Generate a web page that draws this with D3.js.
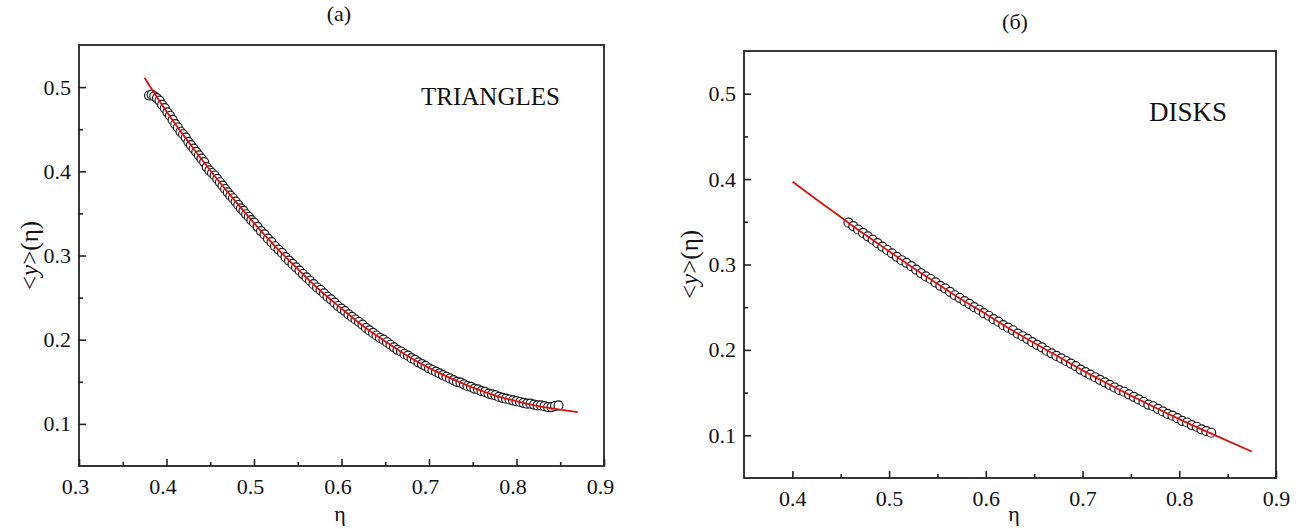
<!DOCTYPE html>
<html>
<head>
<meta charset="utf-8">
<script src="https://cdn.jsdelivr.net/npm/d3@7"></script>
<style>
  html, body { margin: 0; padding: 0; background: #fff; }
  svg { display: block; }
  text { font-family: "Liberation Serif", "Times New Roman", serif; fill: #111; }
</style>
</head>
<body>
<svg id="chart" width="1302" height="529"></svg>
<script>
// ---- Panel (a): triangles ----
const triEta = [
  0.380, 0.383, 0.386, 0.389, 0.392, 0.395, 0.398, 0.401, 0.404, 0.407,
  0.410, 0.413, 0.416, 0.419, 0.422, 0.425, 0.428, 0.431, 0.434, 0.437,
  0.440, 0.443, 0.446, 0.449, 0.452, 0.455, 0.458, 0.461, 0.464, 0.467,
  0.470, 0.473, 0.476, 0.479, 0.482, 0.485, 0.488, 0.491, 0.494, 0.497,
  0.500, 0.504, 0.508, 0.512, 0.516, 0.520, 0.524, 0.528, 0.532, 0.536,
  0.540, 0.544, 0.548, 0.552, 0.556, 0.560, 0.564, 0.568, 0.572, 0.576,
  0.580, 0.584, 0.588, 0.592, 0.596, 0.600, 0.604, 0.608, 0.612, 0.616,
  0.620, 0.624, 0.628, 0.632, 0.636, 0.640, 0.644, 0.648, 0.652, 0.656,
  0.660, 0.664, 0.668, 0.672, 0.676, 0.680, 0.684, 0.688, 0.692, 0.696,
  0.700, 0.704, 0.708, 0.712, 0.716, 0.720, 0.724, 0.728, 0.732, 0.736,
  0.740, 0.744, 0.748, 0.752, 0.756, 0.760, 0.764, 0.768, 0.772, 0.776,
  0.780, 0.784, 0.788, 0.792, 0.796, 0.800, 0.804, 0.808, 0.812, 0.816,
  0.820, 0.824, 0.828, 0.832, 0.836, 0.840, 0.844, 0.848
];
const triY = [
  0.490, 0.491, 0.489, 0.487, 0.484, 0.479, 0.475, 0.470, 0.466, 0.461,
  0.456, 0.452, 0.447, 0.444, 0.440, 0.435, 0.431, 0.427, 0.423, 0.419,
  0.415, 0.411, 0.405, 0.401, 0.398, 0.395, 0.391, 0.387, 0.383, 0.379,
  0.375, 0.371, 0.368, 0.364, 0.360, 0.356, 0.353, 0.349, 0.346, 0.342,
  0.339, 0.334, 0.329, 0.325, 0.320, 0.316, 0.311, 0.307, 0.303, 0.298,
  0.294, 0.290, 0.286, 0.282, 0.278, 0.274, 0.270, 0.266, 0.262, 0.259,
  0.255, 0.251, 0.248, 0.244, 0.240, 0.237, 0.234, 0.230, 0.227, 0.224,
  0.221, 0.218, 0.214, 0.211, 0.208, 0.205, 0.202, 0.200, 0.197, 0.194,
  0.191, 0.188, 0.186, 0.183, 0.181, 0.178, 0.176, 0.173, 0.171, 0.169,
  0.166, 0.164, 0.162, 0.160, 0.158, 0.156, 0.154, 0.152, 0.150, 0.149,
  0.147, 0.145, 0.144, 0.142, 0.141, 0.139, 0.138, 0.136, 0.135, 0.134,
  0.132, 0.131, 0.130, 0.129, 0.128, 0.127, 0.126, 0.125, 0.124, 0.124,
  0.123, 0.122, 0.122, 0.121, 0.120, 0.120, 0.121, 0.122
];
const triFitEta = [0.375, 0.400, 0.425, 0.450, 0.475, 0.500, 0.525, 0.550, 0.575, 0.600,
                   0.625, 0.650, 0.675, 0.700, 0.725, 0.750, 0.775, 0.800, 0.825, 0.850, 0.870];
const triFitY   = [0.511, 0.471, 0.435, 0.401, 0.369, 0.3385, 0.310, 0.284, 0.259, 0.237,
                   0.216, 0.198, 0.181, 0.1665, 0.154, 0.143, 0.134, 0.127, 0.121, 0.117, 0.114];

// ---- Panel (б): disks ----
const diskEta = [
  0.458, 0.463, 0.468, 0.473, 0.478, 0.483, 0.488, 0.493, 0.498, 0.503,
  0.508, 0.513, 0.518, 0.523, 0.528, 0.533, 0.538, 0.543, 0.548, 0.553,
  0.558, 0.563, 0.568, 0.573, 0.578, 0.583, 0.588, 0.593, 0.598, 0.603,
  0.608, 0.613, 0.618, 0.623, 0.628, 0.633, 0.638, 0.643, 0.648, 0.653,
  0.658, 0.663, 0.668, 0.673, 0.678, 0.683, 0.688, 0.693, 0.698, 0.703,
  0.708, 0.713, 0.718, 0.723, 0.728, 0.733, 0.738, 0.743, 0.748, 0.753,
  0.758, 0.763, 0.768, 0.773, 0.778, 0.783, 0.788, 0.793, 0.798, 0.803,
  0.808, 0.813, 0.818, 0.823, 0.828, 0.833
];
const diskY = [
  0.349, 0.345, 0.341, 0.337, 0.333, 0.329, 0.325, 0.321, 0.317, 0.313,
  0.309, 0.305, 0.302, 0.298, 0.294, 0.290, 0.286, 0.283, 0.279, 0.275,
  0.272, 0.268, 0.264, 0.261, 0.257, 0.254, 0.250, 0.247, 0.243, 0.240,
  0.236, 0.233, 0.229, 0.226, 0.223, 0.219, 0.216, 0.213, 0.209, 0.206,
  0.203, 0.199, 0.196, 0.193, 0.190, 0.187, 0.184, 0.181, 0.177, 0.174,
  0.171, 0.168, 0.165, 0.162, 0.159, 0.156, 0.153, 0.151, 0.148, 0.145,
  0.142, 0.139, 0.136, 0.134, 0.131, 0.128, 0.125, 0.123, 0.120, 0.117,
  0.115, 0.112, 0.110, 0.107, 0.105, 0.103
];
const diskFitEta = [0.400, 0.425, 0.450, 0.475, 0.500, 0.525, 0.550, 0.575, 0.600, 0.625,
                    0.650, 0.675, 0.700, 0.725, 0.750, 0.775, 0.800, 0.825, 0.850, 0.875];
const diskFitY   = [0.397, 0.376, 0.3555, 0.335, 0.3155, 0.296, 0.2775, 0.259, 0.242, 0.2245,
                    0.208, 0.192, 0.176, 0.161, 0.1465, 0.1325, 0.119, 0.106, 0.0935, 0.081];

// ---- Axis ticks ----
const triXMajor = [0.3, 0.4, 0.5, 0.6, 0.7, 0.8, 0.9];
const triXMinor = [0.35, 0.45, 0.55, 0.65, 0.75, 0.85];
const diskXMajor = [0.4, 0.5, 0.6, 0.7, 0.8, 0.9];
const diskXMinor = [0.45, 0.55, 0.65, 0.75, 0.85];
const yMajor = [0.1, 0.2, 0.3, 0.4, 0.5];
const yMinor = [0.15, 0.25, 0.35, 0.45];

const SERIF = '"Liberation Serif", "Times New Roman", serif';
const svg = d3.select("#chart");

function styleLabels(sel, dx) {
  sel.attr("font-family", SERIF).attr("font-size", null);
  sel.selectAll("text")
    .attr("font-size", 22)
    .attr("dx", dx)
    .style("font-family", SERIF)
    .attr("fill", "#111");
}

function drawPanel(p) {
  const x = d3.scaleLinear().domain(p.xDomain).range([p.left, p.right]);
  const y = d3.scaleLinear().domain([0.05, 0.55]).range([p.bottom, p.top]);
  const g = svg.append("g");

  // minor ticks (inward)
  g.append("g")
    .attr("transform", `translate(0,${p.bottom})`)
    .call(d3.axisBottom(x).tickValues(p.xMinor).tickSize(-4).tickFormat(""))
    .call(s => s.select(".domain").remove());
  g.append("g")
    .attr("transform", `translate(${p.left},0)`)
    .call(d3.axisLeft(y).tickValues(yMinor).tickSize(-4).tickFormat(""))
    .call(s => s.select(".domain").remove());

  // major ticks with labels
  const fmt = d3.format(".1f");
  g.append("g")
    .attr("transform", `translate(0,${p.bottom})`)
    .call(d3.axisBottom(x).tickValues(p.xMajor).tickSize(-7).tickPadding(12).tickFormat(fmt))
    .call(s => s.select(".domain").remove())
    .call(s => styleLabels(s, p.xLabelDx));
  g.append("g")
    .attr("transform", `translate(${p.left},0)`)
    .call(d3.axisLeft(y).tickValues(yMajor).tickSize(-7).tickPadding(8).tickFormat(fmt))
    .call(s => s.select(".domain").remove())
    .call(s => styleLabels(s, 0));

  g.selectAll(".tick line").attr("stroke", "#222").attr("stroke-width", 1.6);

  // frame
  g.append("rect")
    .attr("x", p.left).attr("y", p.top)
    .attr("width", p.right - p.left).attr("height", p.bottom - p.top)
    .attr("fill", "none").attr("stroke", "#222").attr("stroke-width", 1.8);

  // data circles
  const pts = p.eta.map((e, i) => [e, p.vals[i]]);
  g.append("g").selectAll("circle").data(pts).join("circle")
    .attr("cx", d => x(d[0])).attr("cy", d => y(d[1]))
    .attr("r", 4.5)
    .attr("fill", "#fff").attr("stroke", "#1a1a1a").attr("stroke-width", 1.2);

  // fitted curve
  const fit = p.fitEta.map((e, i) => [e, p.fitY[i]]);
  g.append("path")
    .datum(fit)
    .attr("d", d3.line().x(d => x(d[0])).y(d => y(d[1])).curve(d3.curveNatural))
    .attr("fill", "none").attr("stroke", "#dd1111").attr("stroke-width", 1.8);

  // panel title
  g.append("text").attr("x", p.titleX).attr("y", p.titleY)
    .attr("text-anchor", "middle").attr("font-size", 22).text(p.title);

  // x-axis label
  g.append("text").attr("x", p.etaX).attr("y", 521)
    .attr("text-anchor", "middle").attr("font-size", 22).text("η");

  // y-axis label
  const yl = g.append("text")
    .attr("transform", `translate(${p.yLabelX},${(p.top + p.bottom) / 2}) rotate(-90)`)
    .attr("text-anchor", "middle").attr("font-size", 25);
  yl.append("tspan").text("<");
  yl.append("tspan").attr("font-style", "italic").text("y");
  yl.append("tspan").text(">(η)");

  // shape name
  g.append("text").attr("x", p.nameX).attr("y", p.nameY)
    .attr("font-size", p.nameSize).text(p.name);
}

drawPanel({
  left: 79, right: 604, top: 45, bottom: 466,
  xDomain: [0.3, 0.9], xMajor: triXMajor, xMinor: triXMinor, xLabelDx: -4,
  eta: triEta, vals: triY, fitEta: triFitEta, fitY: triFitY,
  title: "(a)", titleX: 339, titleY: 21, etaX: 340,
  yLabelX: 38, name: "TRIANGLES", nameX: 421, nameY: 105, nameSize: 25
});

drawPanel({
  left: 744, right: 1276, top: 51, bottom: 478,
  xDomain: [0.35, 0.9], xMajor: diskXMajor, xMinor: diskXMinor, xLabelDx: 0,
  eta: diskEta, vals: diskY, fitEta: diskFitEta, fitY: diskFitY,
  title: "(б)", titleX: 1015, titleY: 29, etaX: 1014,
  yLabelX: 698, name: "DISKS", nameX: 1149, nameY: 121, nameSize: 27
});
</script>
</body>
</html>
